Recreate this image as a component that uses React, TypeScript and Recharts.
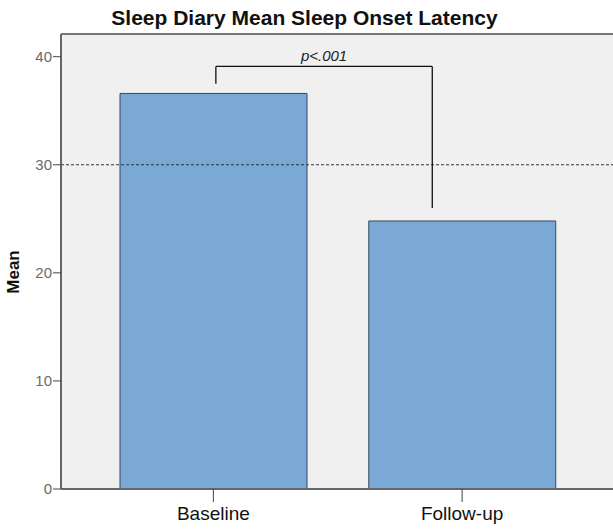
import React from 'react';
import { BarChart, Bar, XAxis, YAxis, CartesianGrid, ReferenceLine } from 'recharts';

const categories = ['Baseline', 'Follow-up'];
const meanValues = [36.6, 24.8];
const yTicks = [0, 10, 20, 30, 40];
const yMax = 42.1;
const referenceValue = 30;
const bracketLevel = 39.1;
const bracketLeftFoot = 37.5;
const bracketRightFoot = 26.0;
const bracketLeftPos = 0.51;
const bracketRightPos = 1.38;
const bracketLabel = 'p<.001';
const title = 'Sleep Diary Mean Sleep Onset Latency';
const yLabel = 'Mean';

const data = categories.map((c, i) => ({ name: c, pos: i + 0.5, mean: meanValues[i] }));
const xTicks = data.map((d) => d.pos);

const FONT = '"Liberation Sans", Arial, sans-serif';
const PAD_L = 28;
const PAD_R = 26.5;
const BAND = (613 - 61 - PAD_L - PAD_R) / 2;
const posDomain: [number, number] = [-PAD_L / BAND, 2 + PAD_R / BAND];

export default function App() {
  return (
    <div style={{ position: 'absolute', left: 0, top: 0, width: 613, height: 529, background: '#fff', fontFamily: FONT }}>
      <div style={{ position: 'absolute', left: 0, top: 6, width: 609, textAlign: 'center', fontSize: 21, fontWeight: 'bold', color: '#111', lineHeight: '24px' }}>
        {title}
      </div>
      <div style={{ position: 'absolute', left: 14, top: 272, transform: 'translate(-50%, -50%) rotate(-90deg)', fontSize: 17, fontWeight: 'bold', color: '#111', whiteSpace: 'nowrap' }}>
        {yLabel}
      </div>
      <BarChart width={613} height={529} data={data} margin={{ top: 34, right: 0, bottom: 0, left: 0 }} style={{ fontFamily: FONT }}>
        <CartesianGrid fill="#f0f0f0" horizontal={false} vertical={false} />
        <XAxis
          dataKey="pos"
          type="number"
          domain={posDomain}
          ticks={xTicks}
          allowDataOverflow
          tickFormatter={(v: number) => categories[Math.floor(v)]}
          height={40}
          axisLine={{ stroke: '#666', strokeWidth: 2 }}
          tickLine={{ stroke: '#444' }}
          tickSize={13}
          tick={{ fill: '#111', fontSize: 19 }}
          tickMargin={5}
        />
        <YAxis
          width={61}
          domain={[0, yMax]}
          ticks={yTicks}
          allowDataOverflow
          axisLine={{ stroke: '#666', strokeWidth: 2 }}
          tickLine={{ stroke: '#444' }}
          tickSize={8}
          tick={{ fill: '#6a6a6a', fontSize: 15 }}
          tickMargin={1}
        />
        <ReferenceLine y={yMax} stroke="#777" strokeWidth={2} />
        <Bar dataKey="mean" fill="#7aa9d6" stroke="#34495e" strokeWidth={1} barSize={187} isAnimationActive={false} />
        <ReferenceLine y={referenceValue} stroke="#333" strokeDasharray="3 2" strokeWidth={1} />
        <ReferenceLine
          segment={[{ x: bracketLeftPos, y: bracketLevel }, { x: bracketRightPos, y: bracketLevel }]}
          stroke="#111"
          strokeWidth={1.3}
          label={{ value: bracketLabel, position: 'top', offset: 5, fill: '#222', fontSize: 15, fontStyle: 'italic' }}
        />
        <ReferenceLine
          segment={[{ x: bracketLeftPos, y: bracketLevel }, { x: bracketLeftPos, y: bracketLeftFoot }]}
          stroke="#111"
          strokeWidth={1.3}
        />
        <ReferenceLine
          segment={[{ x: bracketRightPos, y: bracketLevel }, { x: bracketRightPos, y: bracketRightFoot }]}
          stroke="#111"
          strokeWidth={1.3}
        />
      </BarChart>
    </div>
  );
}
